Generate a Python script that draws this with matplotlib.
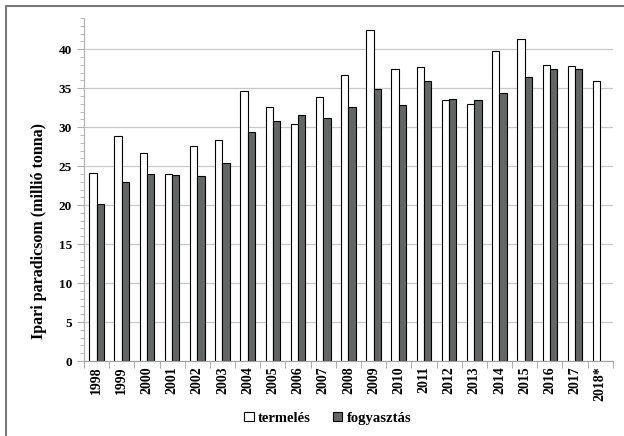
import matplotlib
matplotlib.use("Agg")
import matplotlib.pyplot as plt
from matplotlib.lines import Line2D
from matplotlib.ticker import MultipleLocator
import numpy as np

plt.rcParams['font.family'] = ['Liberation Serif', 'DejaVu Serif']
plt.rcParams['font.weight'] = 'bold'

# Data
years = ['1998', '1999', '2000', '2001', '2002', '2003', '2004', '2005', '2006', '2007',
         '2008', '2009', '2010', '2011', '2012', '2013', '2014', '2015', '2016', '2017', '2018*']
termeles = [24.1, 28.9, 26.7, 24.0, 27.6, 28.4, 34.7, 32.6, 30.4, 33.9,
            36.7, 42.5, 37.4, 37.7, 33.5, 33.0, 39.8, 41.3, 38.0, 37.8, 35.9]
fogyasztas = [20.2, 22.9, 24.0, 23.8, 23.7, 25.4, 29.4, 30.8, 31.5, 31.2,
              32.6, 34.9, 32.9, 35.9, 33.6, 33.5, 34.4, 36.4, 37.5, 37.4]

fig = plt.figure(figsize=(6.24, 4.36), dpi=100)
ax = fig.add_axes([0.1346, 0.172, 0.8474, 0.7867])

x = np.arange(len(years))
w = 0.29
ax.bar(x - w / 2, termeles, w, color='white', edgecolor='black', linewidth=0.8,
       label='termelés', zorder=3)
ax.bar(x[:len(fogyasztas)] + w / 2, fogyasztas, w, color='#626665', edgecolor='black',
       linewidth=0.8, label='fogyasztás', zorder=3)

ax.set_xlim(-0.5, len(years) - 0.5)
ax.set_ylim(0, 44)
ax.yaxis.set_major_locator(MultipleLocator(5))
ax.yaxis.set_minor_locator(MultipleLocator(1))
ax.set_yticks(np.arange(0, 41, 5))
ax.grid(axis='y', which='major', color='#c8c8c8', linewidth=0.9, zorder=0)

# category labels, ticks at the boundaries
ax.set_xticks(x)
ax.set_xticklabels(years, rotation=90, fontsize=10, fontweight='bold')
ax.tick_params(axis='x', length=0, pad=4)
ax.set_xticks(np.arange(-0.5, len(years)), minor=True)
ax.tick_params(axis='x', which='minor', length=5, color='#a0a0a0')
ax.tick_params(axis='y', which='major', length=5, color='#b0b0b0', labelsize=9.5)
ax.tick_params(axis='y', which='minor', length=3, color='#b0b0b0')

for s in ['top', 'right']:
    ax.spines[s].set_visible(False)
ax.spines['left'].set_color('#b0b0b0')
ax.spines['bottom'].set_color('#a0a0a0')

ax.set_ylabel('Ipari paradicsom (millió tonna)', fontsize=11.5, fontweight='bold')
ax.yaxis.set_label_coords(-0.07, 0.38)

fig.legend(loc='center', bbox_to_anchor=(0.525, 0.041), ncol=2, frameon=False,
           fontsize=10.5, handlelength=0.65, handleheight=0.65, columnspacing=1.5,
           handletextpad=0.3)

# outer frame (top and left edges visible in the reference)
bx = 6 / 624
by = 1 - 6 / 436
fig.add_artist(Line2D([bx, bx, 1], [0, by, by], transform=fig.transFigure,
                      color='#7a7a7a', linewidth=1.5))

fig.savefig('out.png', dpi=100)
